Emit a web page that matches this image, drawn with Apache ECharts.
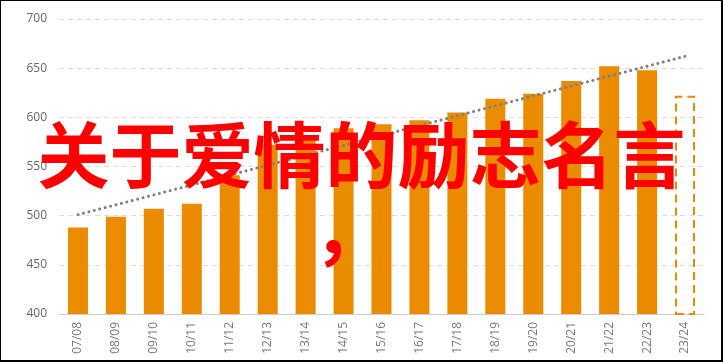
<!DOCTYPE html>
<html><head><meta charset="utf-8">
<script src="https://cdn.jsdelivr.net/npm/echarts@6/dist/echarts.min.js"></script>
<style>
html,body{margin:0;padding:0;background:#fff;overflow:hidden}
#c{position:absolute;left:0;top:0;width:723px;height:363px}
#b{position:absolute;left:-1px;top:-1px;width:724px;height:363px;box-sizing:border-box;border:2px solid #000;pointer-events:none}
</style></head>
<body><div id="c"></div><div id="b"></div>
<script>
const categories = ['07/08','08/09','09/10','10/11','11/12','12/13','13/14','14/15','15/16','16/17','17/18','18/19','19/20','20/21','21/22','22/23','23/24'];
const values = [488, 499, 507, 512, 541, 572, 579, 589, 593, 597, 605, 619, 624, 637, 652, 648, 622];
const projectedIndex = 16;
const trendStart = 501;
const trendEnd = 662;
const yTicks = [400, 450, 500, 550, 600, 650, 700];
const titleLines = ['关于爱情的励志名言', '，'];

const orange = '#EA8B00';
const titleStyle = { fontSize: 72, lineHeight: 80, color: '#ff0000', fontWeight: 'bold', fontFamily: 'Noto Sans CJK SC' };
const chart = echarts.init(document.getElementById('c'));
const barData = values.map((v, i) => i === projectedIndex ? {
  value: v,
  itemStyle: { color: 'rgba(0,0,0,0)', borderColor: orange, borderWidth: 2, borderType: [8, 5] }
} : v);

chart.setOption({
  animation: false,
  title: [{
    text: titleLines[0],
    left: 'center',
    top: 110,
    textStyle: titleStyle
  }, {
    text: titleLines[1],
    left: 308,
    top: 185,
    textStyle: titleStyle
  }],
  grid: { left: 59, right: 19, top: 19, bottom: 49 },
  xAxis: {
    type: 'category',
    data: categories,
    axisLine: { lineStyle: { color: '#cccccc', width: 1 } },
    axisTick: { show: false },
    axisLabel: { rotate: 90, color: '#777', fontSize: 12, fontFamily: 'Open Sans', margin: 8 }
  },
  yAxis: {
    type: 'value',
    min: yTicks[0],
    max: yTicks[yTicks.length - 1],
    interval: 50,
    axisLine: { show: false },
    axisTick: { show: false },
    axisLabel: { color: '#666', fontSize: 12, fontFamily: 'Open Sans', margin: 12 },
    splitLine: { lineStyle: { color: '#dddddd', type: [5, 4] } }
  },
  series: [{
    type: 'bar',
    data: barData,
    barWidth: 20,
    itemStyle: { color: orange },
    markLine: {
      silent: true,
      symbol: 'none',
      label: { show: false },
      lineStyle: { color: '#808080', width: 3, type: [0.1, 5.5], cap: 'round' },
      data: [[{ coord: [0, trendStart] }, { coord: [16, trendEnd] }]]
    }
  }]
});
</script></body></html>
